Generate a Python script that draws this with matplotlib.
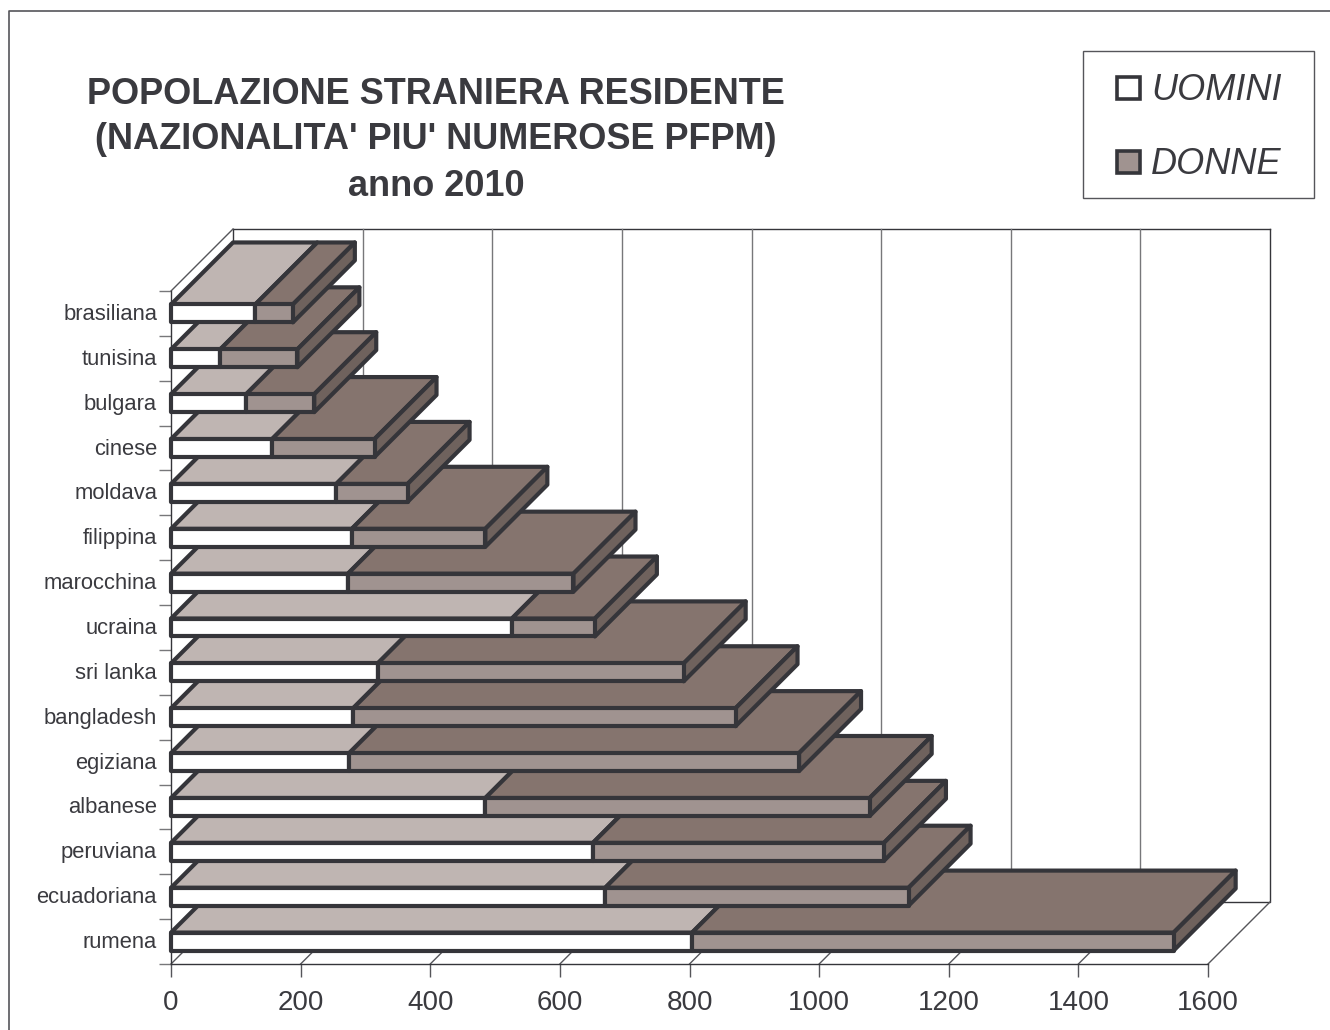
import matplotlib
matplotlib.use('Agg')
import matplotlib.pyplot as plt
from matplotlib.lines import Line2D
from matplotlib.patches import Polygon, Rectangle
from matplotlib.transforms import ScaledTranslation

plt.rcParams['font.family'] = ['Liberation Sans', 'DejaVu Sans']

# Values, bottom category first
nazionalita = ['rumena', 'ecuadoriana', 'peruviana', 'albanese', 'egiziana',
               'bangladesh', 'sri lanka', 'ucraina', 'marocchina', 'filippina',
               'moldava', 'cinese', 'bulgara', 'tunisina', 'brasiliana']
uomini = [804, 670, 651, 485, 275, 281, 319, 526, 273, 279, 255, 156, 116, 76, 130]
donne = [743, 468, 449, 593, 694, 590, 472, 128, 348, 206, 110, 158, 105, 119, 58]
x_ticks = [0, 200, 400, 600, 800, 1000, 1200, 1400, 1600]

# Colours
EDGE = '#35353a'
TEXT = '#3a3a3f'
UOMINI_FRONT, UOMINI_TOP = '#ffffff', '#bfb5b2'
DONNE_FRONT, DONNE_TOP, DONNE_SIDE = '#a09390', '#85746e', '#6f625d'

W, H = 1330, 1030
LEFT, RIGHT, TOP, BOTTOM = 171, 1208, 291, 964
# Oblique offset of the back wall, in data units
DX = 62 / (RIGHT - LEFT) * 1600
DY = 62 / (BOTTOM - TOP) * 15
HALF = 0.2

fig = plt.figure(figsize=(W / 100, H / 100), dpi=100)
ax = fig.add_axes([LEFT / W, 1 - BOTTOM / H, (RIGHT - LEFT) / W, (BOTTOM - TOP) / H])
ax.set_xlim(0, 1600)
ax.set_ylim(0, 15)
ax.patch.set_visible(False)
for s in ['top', 'right']:
    ax.spines[s].set_visible(False)
for s in ['left', 'bottom']:
    ax.spines[s].set_color(EDGE)
    ax.spines[s].set_linewidth(1.0)

# Axis ticks: boundaries on y, names centred between them
ax.set_xticks(x_ticks)
ax.tick_params(axis='x', length=9, width=1, color='#55555a', labelsize=20,
               labelcolor=TEXT, pad=10)
ax.set_yticks(range(16))
ax.set_yticklabels([])
ax.tick_params(axis='y', which='major', length=9, width=1, color='#77777a')
ax.set_yticks([i + 0.5 for i in range(15)], minor=True)
ax.set_yticklabels(nazionalita, minor=True)
ax.tick_params(axis='y', which='minor', length=0, labelsize=15.8, labelcolor=TEXT, pad=10)
# The names sit a little above their slots
lift = ScaledTranslation(0, 1.5 / 100, fig.dpi_scale_trans)
for lab in ax.get_yticklabels(minor=True):
    lab.set_transform(lab.get_transform() + lift)


def wall_line(xs, ys, color=EDGE, lw=1.0, z=1):
    ax.add_line(Line2D(xs, ys, color=color, lw=lw, zorder=z, clip_on=False))


# Back wall, floor and side wall
wall_line([DX, DX, 1600 + DX, 1600 + DX], [DY + 15, DY, DY, DY + 15])
wall_line([DX, 1600 + DX], [15 + DY, 15 + DY])
wall_line([0, DX], [15, 15 + DY], color='#55555a')
for t in x_ticks:
    wall_line([t, t + DX], [0, DY], color='#55555a')
    if 0 < t < 1600:
        wall_line([t + DX, t + DX], [DY, 15 + DY], color='#77777a')


def face(points, color, z):
    ax.add_patch(Polygon(points, closed=True, facecolor=color, edgecolor=EDGE,
                         linewidth=3.0, joinstyle='round', zorder=z, clip_on=False))


# The chart paints from the bottom category upward, so each bar covers the top of the one below
for i in range(len(nazionalita)):
    y0, y1 = i + 0.5 - HALF, i + 0.5 + HALF
    m = uomini[i]
    t = uomini[i] + donne[i]
    z = 3 + i * 0.1
    face([(0, y1), (m, y1), (m + DX, y1 + DY), (DX, y1 + DY)], UOMINI_TOP, z)
    face([(m, y1), (t, y1), (t + DX, y1 + DY), (m + DX, y1 + DY)], DONNE_TOP, z)
    face([(t, y0), (t + DX, y0 + DY), (t + DX, y1 + DY), (t, y1)], DONNE_SIDE, z)
    face([(0, y0), (m, y0), (m, y1), (0, y1)], UOMINI_FRONT, z + 0.01)
    face([(m, y0), (t, y0), (t, y1), (m, y1)], DONNE_FRONT, z + 0.01)

# Title
for txt, yp in [('POPOLAZIONE STRANIERA RESIDENTE', 94),
                ("(NAZIONALITA' PIU' NUMEROSE PFPM)", 140),
                ('anno 2010', 186)]:
    fig.text(436 / W, 1 - yp / H, txt, ha='center', va='center', fontsize=26,
             fontweight='bold', color=TEXT)

# Legend box, keys and names
fig.add_artist(Rectangle((1083 / W, 1 - 198 / H), 231 / W, 147 / H, facecolor='white',
                         edgecolor='#55555a', lw=1.0, transform=fig.transFigure))
for txt, color, yp in [('UOMINI', UOMINI_FRONT, 88), ('DONNE', DONNE_FRONT, 162)]:
    fig.add_artist(Rectangle((1117 / W, 1 - (yp + 11) / H), 23 / W, 22 / H, facecolor=color,
                             edgecolor=EDGE, lw=2.6, transform=fig.transFigure))
    fig.text(1151 / W, 1 - (yp + 3) / H, txt, ha='left', va='center', fontsize=26,
             fontstyle='italic', color=TEXT)

# Outer frame of the picture
fig.add_artist(Line2D([9 / W, 9 / W, 1], [0, 1 - 11 / H, 1 - 11 / H],
                      color='#55555a', lw=1.2, transform=fig.transFigure))

fig.savefig('out.png', dpi=100, facecolor='white')
